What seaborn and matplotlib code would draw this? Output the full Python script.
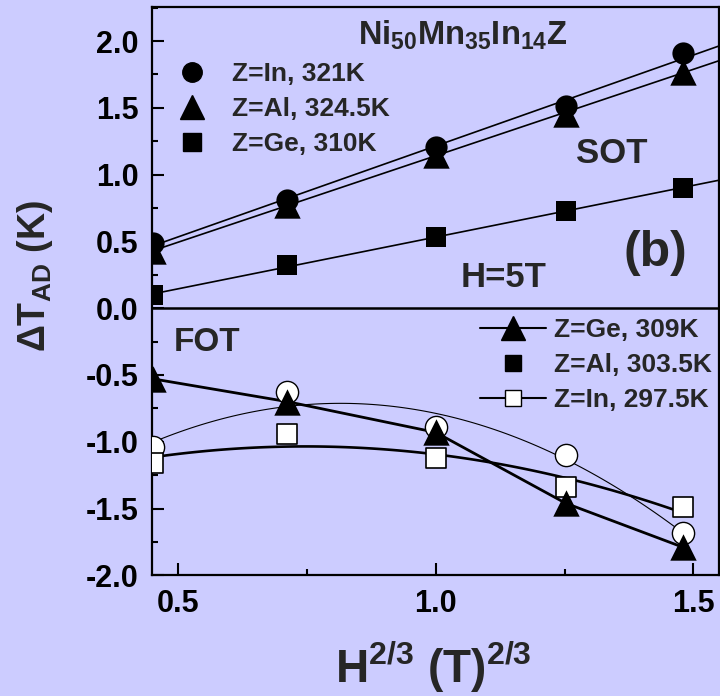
import numpy as np
import pandas as pd
import matplotlib
matplotlib.use("Agg")
import matplotlib.pyplot as plt
import seaborn as sns
from matplotlib.lines import Line2D
from matplotlib.ticker import MultipleLocator

# ---------------- data ----------------
h23 = [0.452, 0.712, 1.0, 1.252, 1.48]

sot_labels = ["Z=In, 321K", "Z=Al, 324.5K", "Z=Ge, 310K"]
sot_in = [0.49, 0.81, 1.21, 1.51, 1.91]
sot_al = [0.43, 0.77, 1.15, 1.45, 1.77]
sot_ge = [0.10, 0.32, 0.53, 0.73, 0.90]

fot_labels = ["Z=Ge, 309K", "Z=Al, 303.5K", "Z=In, 297.5K"]
fot_ge = [-0.53, -0.70, -0.93, -1.46, -1.79]
fot_al = [-1.04, -0.63, -0.89, -1.10, -1.68]
fot_in = [-1.16, -0.94, -1.12, -1.34, -1.49]

xticks = [0.5, 1.0, 1.5]
yticks = [-2.0, -1.5, -1.0, -0.5, 0.0, 0.5, 1.0, 1.5, 2.0]

BG = "#ccccff"

sns.set_theme(style="ticks")
plt.rcParams["font.family"] = ["Liberation Sans", "DejaVu Sans"]
plt.rcParams["font.weight"] = "bold"
plt.rcParams["mathtext.fontset"] = "custom"
plt.rcParams["mathtext.rm"] = "Liberation Sans:bold"
plt.rcParams["mathtext.bf"] = "Liberation Sans:bold"
plt.rcParams["mathtext.it"] = "Liberation Sans:bold"
plt.rcParams["mathtext.default"] = "rm"

fig = plt.figure(figsize=(7.2, 6.96), dpi=100, facecolor=BG)
ax = fig.add_axes([0.2115, 0.1734, 0.998 - 0.2115, 0.9904 - 0.1734])
ax.set_facecolor(BG)

XMIN, XMAX = 0.4497, 1.549
ax.set_xlim(XMIN, XMAX)
ax.set_ylim(-2.0, 2.257)

# ---- SOT (top) : linear fits + filled markers ----
xs = np.linspace(XMIN, XMAX, 100)
for ys in (sot_in, sot_al, sot_ge):
    p = np.polyfit(h23, ys, 1)
    sns.lineplot(x=xs, y=np.polyval(p, xs), ax=ax, color="black", lw=1.2,
                 estimator=None, sort=False)

sns.scatterplot(x=h23, y=sot_in, ax=ax, marker="o", s=16**2, color="black",
                edgecolor="black", linewidth=0, zorder=5)
sns.scatterplot(x=h23, y=sot_al, ax=ax, marker="^", s=19**2, color="black",
                edgecolor="black", linewidth=0, zorder=5)
sns.scatterplot(x=h23, y=sot_ge, ax=ax, marker="s", s=15**2, color="black",
                edgecolor="black", linewidth=0, zorder=5)

# ---- FOT (bottom) ----
sns.lineplot(x=h23, y=fot_ge, ax=ax, color="black", lw=2.0, estimator=None, sort=False)
xf = np.linspace(h23[0] - 0.002, h23[-1], 100)
p_al = np.polyfit(h23, fot_al, 2)
sns.lineplot(x=xf, y=np.polyval(p_al, xf), ax=ax, color="black", lw=0.8,
             estimator=None, sort=False)
p_in = np.polyfit(h23, fot_in, 2)
sns.lineplot(x=xf, y=np.polyval(p_in, xf), ax=ax, color="black", lw=1.9,
             estimator=None, sort=False)

sns.scatterplot(x=h23, y=fot_al, ax=ax, marker="o", s=16**2, color="white",
                edgecolor="black", linewidth=1.0, zorder=5)
sns.scatterplot(x=h23, y=fot_in, ax=ax, marker="s", s=14**2, color="white",
                edgecolor="black", linewidth=1.2, zorder=6)
sns.scatterplot(x=h23, y=fot_ge, ax=ax, marker="^", s=19**2, color="black",
                edgecolor="black", linewidth=0, zorder=7)

ax.axhline(0, color="black", lw=1.8, zorder=8)

# ---- axes styling ----
for s in ax.spines.values():
    s.set_linewidth(1.6)
    s.set_color("black")
ax.set_xticks(xticks)
ax.set_yticks(yticks)
ax.xaxis.set_minor_locator(MultipleLocator(0.25))
ax.yaxis.set_minor_locator(MultipleLocator(0.25))
ax.set_xticklabels([f"{v:.1f}" for v in xticks])
ax.set_yticklabels([f"{v:.1f}" for v in yticks])
ax.tick_params(axis="both", which="major", direction="in", length=8.5, width=1.5,
               labelsize=22, pad=10, color="black", labelcolor="black")
ax.tick_params(axis="both", which="minor", direction="in", length=4.5, width=1.5,
               color="black")
ax.tick_params(axis="y", which="both", right=False)
ax.tick_params(axis="x", which="both", top=False)
for lab in ax.get_xticklabels() + ax.get_yticklabels():
    lab.set_fontweight("bold")
ax.set_xlabel("")
ax.set_ylabel("")

def px2data(px, py):
    xd = 0.5 + (px - 178.3) / 516.7
    yd = (308.0 - py) / 133.5
    return xd, yd

# ---- texts ----
ax.text(*px2data(464, 45), "Ni$_{50}$Mn$_{35}$In$_{14}$Z", ha="center",
        va="baseline", fontsize=23.5, fontweight="bold")
ax.text(*px2data(613, 163), "SOT", ha="center", va="baseline", fontsize=25, fontweight="bold")
ax.text(*px2data(505, 287), "H=5T", ha="center", va="baseline", fontsize=25, fontweight="bold")
ax.text(*px2data(657, 253), "(b)", ha="center", va="center", fontsize=36, fontweight="bold")
ax.text(*px2data(207, 351), "FOT", ha="center", va="baseline", fontsize=24, fontweight="bold")

fig.text(35 / 720, 1 - 276 / 696, "ΔT$_{AD}$ (K)", rotation=90, ha="center",
         va="center", fontsize=27, fontweight="bold")
fig.text(433 / 720, 1 - 683 / 696, "H$^{2/3}$ (T)$^{2/3}$", ha="center",
         va="baseline", fontsize=33, fontweight="bold")

# ---- legends ----
top_handles = [
    Line2D([], [], ls="none", marker="o", ms=14, color="black"),
    Line2D([], [], ls="none", marker="^", ms=17, color="black"),
    Line2D([], [], ls="none", marker="s", ms=13, color="black"),
]
leg1 = ax.legend(top_handles, sot_labels, loc="upper left",
                 bbox_to_anchor=(0.047, 0.903), frameon=False, borderpad=0,
                 borderaxespad=0, handlelength=1.0, handletextpad=1.0,
                 labelspacing=0.42, prop={"size": 19, "weight": "bold"})
ax.add_artist(leg1)

bot_handles = [
    Line2D([], [], ls="-", lw=1.5, marker="^", ms=17, color="black"),
    Line2D([], [], ls="none", marker="s", ms=11, color="black"),
    Line2D([], [], ls="-", lw=1.5, marker="s", ms=11.5, color="black",
           markerfacecolor="white", markeredgecolor="black"),
]
leg2 = ax.legend(bot_handles, fot_labels, loc="upper left",
                 bbox_to_anchor=(0.579, 0.452), frameon=False, borderpad=0,
                 borderaxespad=0, handlelength=2.5, handletextpad=0.3,
                 labelspacing=0.42, prop={"size": 19, "weight": "bold"})

fig.savefig("out.png", dpi=100, facecolor=BG)
